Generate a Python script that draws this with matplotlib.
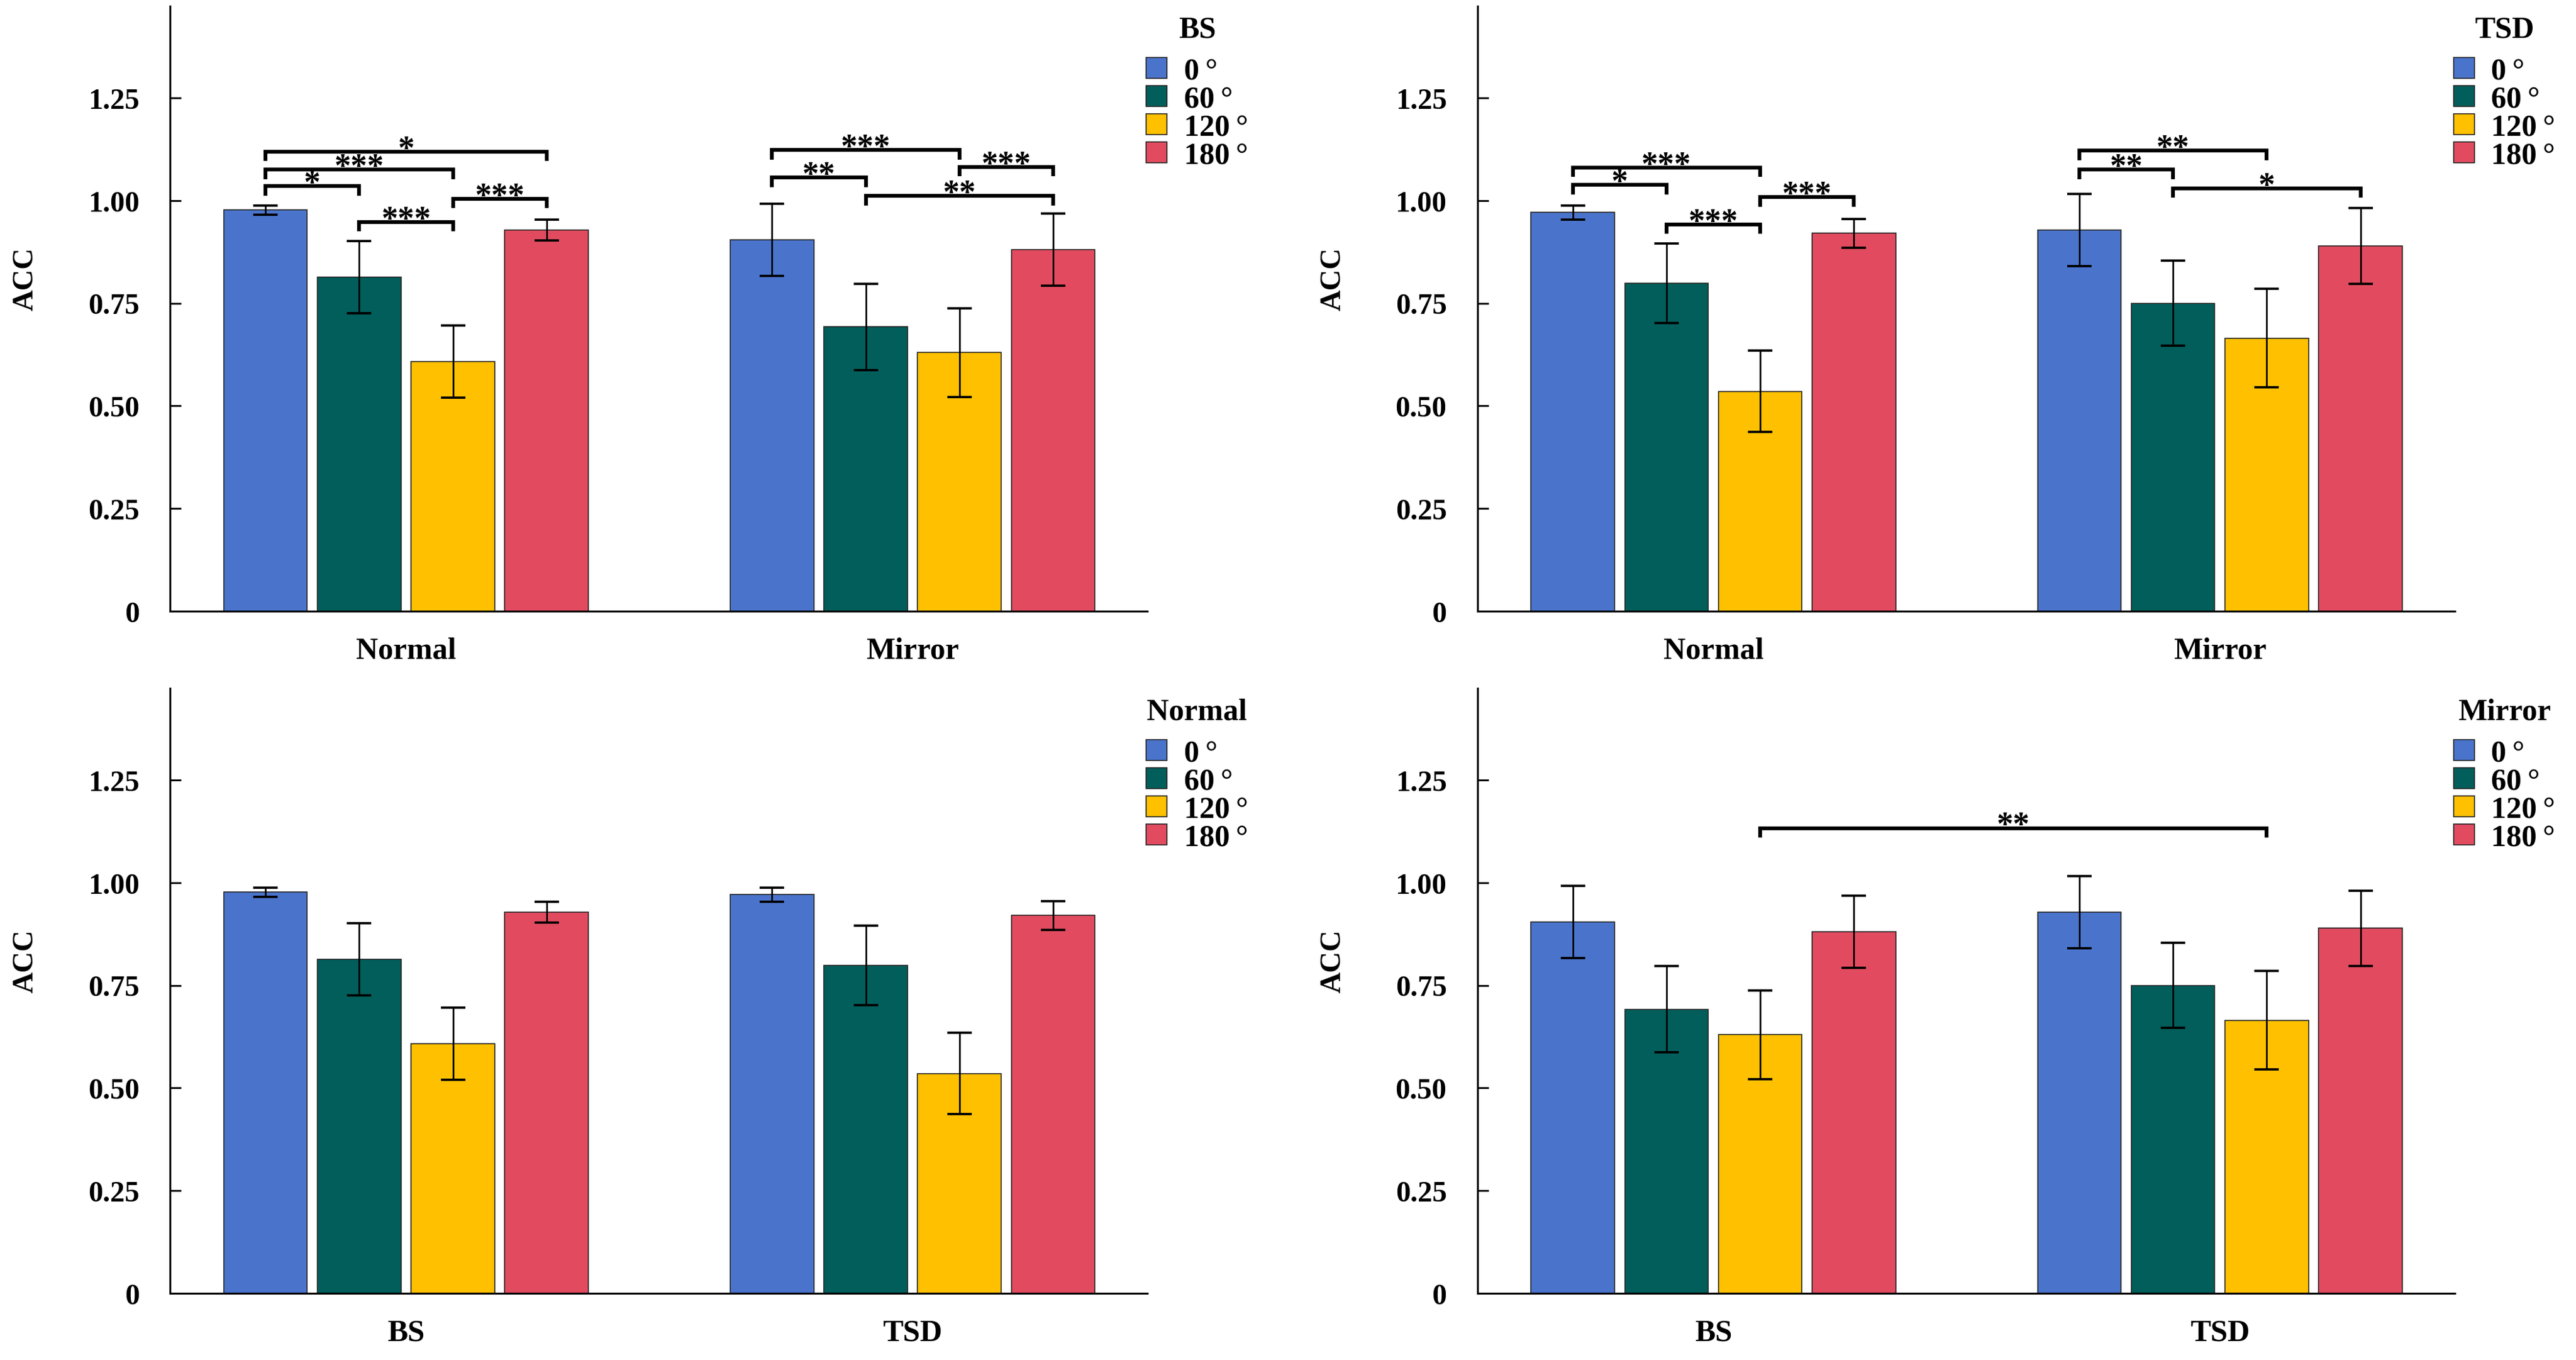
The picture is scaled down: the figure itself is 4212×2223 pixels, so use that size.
import numpy as np
import matplotlib
matplotlib.use("Agg")
import matplotlib.pyplot as plt

# -------------------------
# Daten (ACC, Mittelwert und Fehler)
# -------------------------

angles = ["0\u2009°", "60\u2009°", "120\u2009°", "180\u2009°"]
colors = ["#4A74CC", "#025E5B", "#FFC000", "#E24B5F"]

bs_normal = [0.977, 0.813, 0.608, 0.928]
bs_normal_err = [0.011, 0.088, 0.088, 0.025]
bs_mirror = [0.904, 0.692, 0.630, 0.880]
bs_mirror_err = [0.088, 0.105, 0.108, 0.088]

tsd_normal = [0.971, 0.798, 0.535, 0.920]
tsd_normal_err = [0.017, 0.097, 0.099, 0.035]
tsd_mirror = [0.928, 0.750, 0.665, 0.889]
tsd_mirror_err = [0.088, 0.103, 0.120, 0.092]

yticks = [0, 0.25, 0.50, 0.75, 1.00, 1.25]
ytick_labels = ["0", "0.25", "0.50", "0.75", "1.00", "1.25"]

# Signifikanz: (Balken links, Balken rechts, Hoehe, Sterne); Balken = Gruppe*4 + Winkel
sig_bs = [(0, 3, 1.119, "*"), (0, 2, 1.075, "***"), (0, 1, 1.035, "*"),
          (1, 2, 0.948, "***"), (2, 3, 1.004, "***"),
          (4, 6, 1.123, "***"), (4, 5, 1.056, "**"), (6, 7, 1.082, "***"),
          (5, 7, 1.011, "**")]
sig_tsd = [(0, 2, 1.080, "***"), (0, 1, 1.038, "*"), (1, 2, 0.942, "***"),
           (2, 3, 1.008, "***"),
           (4, 6, 1.121, "**"), (4, 5, 1.075, "**"), (5, 7, 1.030, "*")]
sig_normal = []
sig_mirror = [(2, 6, 1.133, "**")]

panels = [
    ("BS", ["Normal", "Mirror"], [bs_normal, bs_mirror], [bs_normal_err, bs_mirror_err], sig_bs),
    ("TSD", ["Normal", "Mirror"], [tsd_normal, tsd_mirror], [tsd_normal_err, tsd_mirror_err], sig_tsd),
    ("Normal", ["BS", "TSD"], [bs_normal, tsd_normal], [bs_normal_err, tsd_normal_err], sig_normal),
    ("Mirror", ["BS", "TSD"], [bs_mirror, tsd_mirror], [bs_mirror_err, tsd_mirror_err], sig_mirror),
]

# -------------------------
# Stil
# -------------------------

plt.rcParams["font.family"] = ["Liberation Serif", "DejaVu Serif"]
plt.rcParams["font.weight"] = "bold"
plt.rcParams["axes.labelweight"] = "bold"

BAR_W = 0.165
PITCH = 0.185
DROP = 0.023

fig = plt.figure(figsize=(14.04, 7.413), dpi=300, facecolor="white")
positions = [
    [0.0660, 0.5504, 0.3795, 0.4446],
    [0.5735, 0.5504, 0.3795, 0.4446],
    [0.0660, 0.0490, 0.3795, 0.4446],
    [0.5735, 0.0490, 0.3795, 0.4446],
]

for pos, (title, groups, vals, errs, sig) in zip(positions, panels):
    ax = fig.add_axes(pos)
    gx = np.arange(len(groups))

    for k in range(len(angles)):
        x = gx + (k - 1.5) * PITCH
        ax.bar(x, [v[k] for v in vals], BAR_W, yerr=[e[k] for e in errs],
               color=colors[k], edgecolor="#222222", linewidth=0.4,
               capsize=4.8, label=angles[k],
               error_kw=dict(elinewidth=0.65, capthick=0.9, ecolor="black"))

    # Signifikanzklammern
    for a, b, y, stars in sig:
        xa = a // 4 + (a % 4 - 1.5) * PITCH
        xb = b // 4 + (b % 4 - 1.5) * PITCH
        ax.plot([xa, xa, xb, xb], [y - DROP, y, y, y - DROP], color="black",
                linewidth=1.5, solid_joinstyle="miter", solid_capstyle="butt")
        ax.text((xa + xb) / 2, y - 0.015, stars, ha="center", va="baseline",
                fontsize=13, fontweight="bold")

    ax.set_xlim(-0.466, 1.464)
    ax.set_ylim(0, 1.473)
    ax.set_xticks(gx)
    ax.set_xticklabels(groups, fontsize=12, fontweight="bold")
    ax.set_yticks(yticks)
    ax.set_yticklabels(ytick_labels, fontsize=11.5, fontweight="bold")
    ax.tick_params(axis="x", length=0, pad=10)
    ax.tick_params(axis="y", direction="in", length=4.3, width=0.7, pad=12)
    ax.set_ylabel("ACC", fontsize=11.5, fontweight="bold")
    ax.yaxis.set_label_coords(-0.134, 0.55)

    for side in ["top", "right"]:
        ax.spines[side].set_visible(False)
    for side in ["left", "bottom"]:
        ax.spines[side].set_linewidth(0.75)

    leg = ax.legend(loc="upper left", bbox_to_anchor=(0.986, 1.005), frameon=False,
                    title=title, fontsize=12, title_fontproperties=dict(size=12, weight="bold"),
                    handlelength=0.68, handleheight=0.66, handletextpad=0.55,
                    labelspacing=0.0, borderaxespad=0)
    # etwas mehr Luft zwischen Titel und Eintraegen
    leg._legend_box.sep = 5.4

plt.savefig("out.png", dpi=300, facecolor="white")
print("gespeichert")
